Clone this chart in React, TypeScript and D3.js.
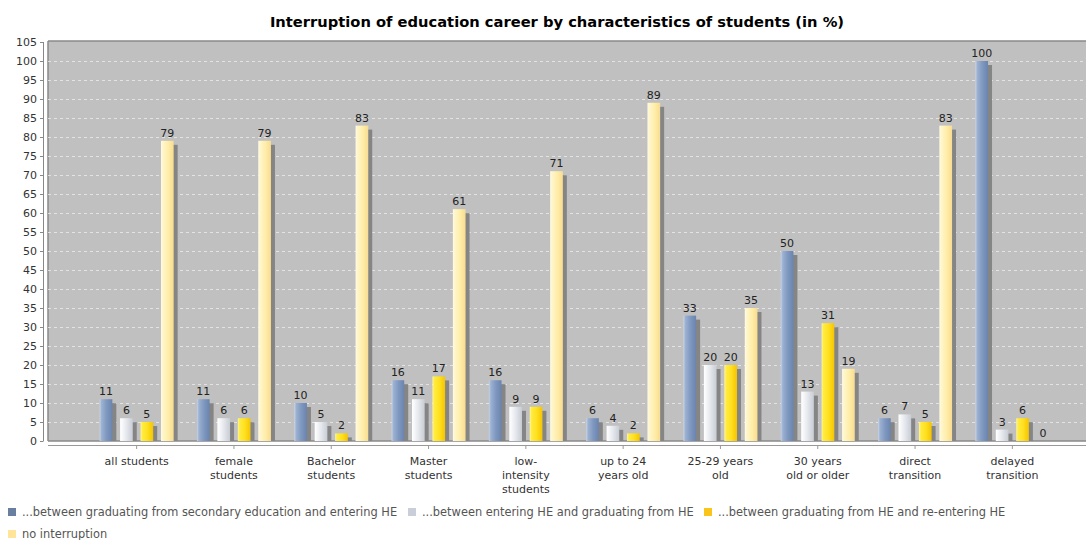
import React from 'react';
import * as d3 from 'd3';

const categories = [
  'all students',
  'female\nstudents',
  'Bachelor\nstudents',
  'Master\nstudents',
  'low-\nintensity\nstudents',
  'up to 24\nyears old',
  '25-29 years\nold',
  '30 years\nold or older',
  'direct\ntransition',
  'delayed\ntransition',
];

const seriesNames = [
  '...between graduating from secondary education and entering HE',
  '...between entering HE and graduating from HE',
  '...between graduating from HE and re-entering HE',
  'no interruption',
];

const secToHE = [11, 11, 10, 16, 16, 6, 33, 50, 6, 100];
const withinHE = [6, 6, 5, 11, 9, 4, 20, 13, 7, 3];
const heToReentry = [5, 6, 2, 17, 9, 2, 20, 31, 5, 6];
const noInterruption = [79, 79, 83, 61, 71, 89, 35, 19, 83, 0];

const yTicks = d3.range(0, 106, 5);

// gradient stops: edge, highlight, base, dark
const palettes = [
  { legend: '#6a7f9f', stops: ['#c8d4e6', '#9db2d2', '#7f98c0', '#6a84ae'] },
  { legend: '#c9ced8', stops: ['#ffffff', '#f8f9fb', '#e2e5ea', '#c8ccd4'] },
  { legend: '#f9c41c', stops: ['#fff4a0', '#ffec40', '#ffe020', '#f4c400'] },
  { legend: '#ffe49a', stops: ['#fffbe6', '#fff6cc', '#ffeeaa', '#f8dc90'] },
];

const legendPos = [
  { x: 8, y: 513 },
  { x: 408, y: 513 },
  { x: 704, y: 513 },
  { x: 8, y: 535 },
];

export default function App() {
  const series = [secToHE, withinHE, heToReentry, noInterruption];
  const plotLeft = 48;
  const plotRight = 1086;
  const plotTop = 41;
  const plotBottom = 441;

  const x = d3.scaleBand<string>().domain(categories).range([88, 1061]);
  const inner = d3
    .scaleBand<number>()
    .domain([0, 1, 2, 3])
    .range([x.bandwidth() / 2 - 37, x.bandwidth() / 2 + 37])
    .paddingInner(0.38);
  const y = d3.scaleLinear().domain([0, 105]).range([plotBottom, 42]);

  const font = '"DejaVu Sans", sans-serif';

  return (
    <svg width={1086} height={540} style={{ position: 'absolute', left: 0, top: 0 }} fontFamily={font}>
      <defs>
        {palettes.map((p, i) => (
          <linearGradient key={i} id={`g${i}`} x1="0" x2="1" y1="0" y2="0">
            <stop offset="0" stopColor={p.stops[0]} />
            <stop offset="0.15" stopColor={p.stops[1]} />
            <stop offset="0.55" stopColor={p.stops[2]} />
            <stop offset="1" stopColor={p.stops[3]} />
          </linearGradient>
        ))}
        <clipPath id="plotclip">
          <rect x={plotLeft} y={plotTop} width={plotRight - plotLeft} height={plotBottom - plotTop} />
        </clipPath>
      </defs>
      <rect width={1086} height={540} fill="#fff" />
      <text x={557} y={27} textAnchor="middle" fontSize={14.7} fontWeight="bold" fill="#000">
        Interruption of education career by characteristics of students (in %)
      </text>

      {/* plot background */}
      <rect x={plotLeft} y={plotTop} width={plotRight - plotLeft} height={plotBottom - plotTop} fill="#c0c0c0" />
      <line x1={plotLeft} x2={plotRight} y1={plotTop} y2={plotTop} stroke="#8a8a8a" strokeWidth={1.5} />
      <line x1={plotLeft} x2={plotLeft} y1={plotTop} y2={plotBottom} stroke="#8a8a8a" strokeWidth={1.5} />
      <line x1={plotLeft} x2={plotRight} y1={plotBottom} y2={plotBottom} stroke="#8a8a8a" strokeWidth={1.5} />
      {yTicks.slice(1, -1).map((t) => (
        <line
          key={t}
          x1={plotLeft}
          x2={plotRight}
          y1={y(t) + 0.5}
          y2={y(t) + 0.5}
          stroke="#ececec"
          strokeWidth={1}
          strokeDasharray="3,3"
          opacity={0.8}
        />
      ))}

      {/* bars */}
      <g clipPath="url(#plotclip)">
        {categories.map((c) =>
          series.map((vals, si) => {
            const v = vals[categories.indexOf(c)];
            const bx = (x(c) as number) + (inner(si) as number);
            const bw = inner.bandwidth();
            const by = y(v);
            const bh = plotBottom - by;
            return (
              <g key={c + si}>
                <rect x={bx + 4} y={by + 4} width={bw} height={Math.max(0, bh)} fill="#858585" />
                <rect x={bx} y={by} width={bw} height={bh} fill={`url(#g${si})`} />
              </g>
            );
          })
        )}
      </g>
      {categories.map((c) =>
        series.map((vals, si) => {
          const v = vals[categories.indexOf(c)];
          const bx = (x(c) as number) + (inner(si) as number) + inner.bandwidth() / 2;
          return (
            <text key={'l' + c + si} x={bx} y={y(v) - 4} textAnchor="middle" fontSize={11} fill="#222">
              {v}
            </text>
          );
        })
      )}

      {/* y axis */}
      <line x1={43.5} x2={43.5} y1={y(105)} y2={plotBottom} stroke="#888" />
      {yTicks.map((t) => (
        <g key={t}>
          <line x1={40} x2={43.5} y1={y(t) + 0.5} y2={y(t) + 0.5} stroke="#888" />
          <text x={37} y={y(t) + 4} textAnchor="end" fontSize={11} fill="#333">
            {t}
          </text>
        </g>
      ))}

      {/* x axis */}
      <line x1={plotLeft} x2={plotRight} y1={445.5} y2={445.5} stroke="#999" />
      {categories.map((c) => {
        const cx = (x(c) as number) + x.bandwidth() / 2;
        return (
          <g key={'x' + c}>
            <line x1={cx} x2={cx} y1={445.5} y2={449} stroke="#999" />
            <text textAnchor="middle" fontSize={11} fill="#333">
              {c.split('\n').map((line, li) => (
                <tspan key={li} x={cx} y={465 + li * 14}>
                  {line}
                </tspan>
              ))}
            </text>
          </g>
        );
      })}

      {/* legend */}
      {seriesNames.map((s, i) => (
        <g key={s}>
          <rect x={legendPos[i].x} y={legendPos[i].y - 5} width={8} height={8} fill={palettes[i].legend} />
          <text x={legendPos[i].x + 14} y={legendPos[i].y + 3} fontSize={11.4} fill="#555">
            {s}
          </text>
        </g>
      ))}
    </svg>
  );
}
